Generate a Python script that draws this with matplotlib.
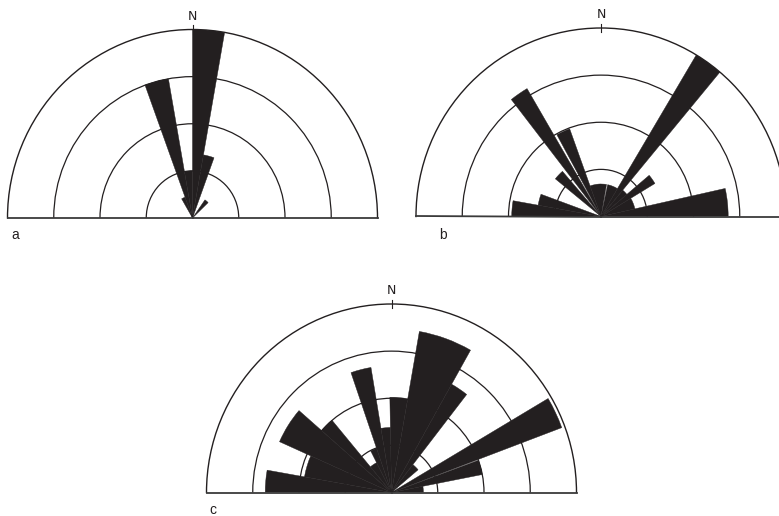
import numpy as np
import matplotlib
matplotlib.use("Agg")
import matplotlib.pyplot as plt

# Half rose diagrams: azimuth classes (degrees, negative = west of north)
# and class lengths in ring units (rings at 1, 2, 3; outer circle at 4).
a_from = [-30, -20, -10, 0, 10, 35]
a_to = [-20, -10, 0, 10, 20, 46]
a_len = [0.47, 3.0, 1.0, 4.0, 1.36, 0.47]

b_from = [-90, -80, -51, -38, -28.8, -20, 12, 31, 40, 50, 59, 77.5]
b_to = [-80, -70, -41, -30.5, -20, 10, 31, 40, 50, 59, 77.5, 90]
b_len = [1.93, 1.38, 1.27, 3.15, 1.98, 0.69, 0.69, 4.0, 0.73, 1.36, 0.75, 2.75]

c_from = [-90, -80, -66, -49, -40, -27, -19, -9.5, -1, 10, 29.5, 38, 59.5, 70, 79]
c_to = [-80, -66, -49, -40, -27, -19, -9.5, -1, 10, 29.5, 38, 50, 69.5, 79, 90]
c_len = [2.73, 1.91, 2.65, 2.0, 0.71, 0.99, 2.69, 1.38, 2.02, 3.47, 2.64, 0.75, 3.93, 2.0, 0.69]

ring_values = [1, 2, 3]
outer = 4
panel_names = ["a", "b", "c"]

W, H = 779, 516
fig = plt.figure(figsize=(W / 100, H / 100), dpi=100)

# pixel centre of each half-circle and outer-circle radii (across, up)
centres = [(192.5, 218.0), (601.0, 216.5), (391.5, 492.5)]
RX, RY = 185.0, 188.5
label_pos = [(15, 235), (443, 235), (213, 510)]
ink = "#231f20"

panels = [(a_from, a_to, a_len), (b_from, b_to, b_len), (c_from, c_to, c_len)]

for (cx, cy), (t0, t1, ln), name, (lx, ly) in zip(centres, panels, panel_names, label_pos):
    # the half-disk sits vertically centred in its polar box
    top = cy - 1.5 * RY
    ax = fig.add_axes([(cx - RX) / W, (H - (top + 2 * RY)) / H, 2 * RX / W, 2 * RY / H],
                      projection="polar")
    ax.set_aspect("auto")
    ax.set_theta_zero_location("N")
    ax.set_theta_direction(-1)
    ax.set_thetamin(-90)
    ax.set_thetamax(90)
    ax.set_ylim(0, outer)
    ax.set_facecolor("none")

    t0 = np.asarray(t0, float)
    t1 = np.asarray(t1, float)
    ax.bar(np.deg2rad(t0), ln, width=np.deg2rad(t1 - t0), align="edge",
           bottom=0, color=ink, edgecolor=ink, linewidth=0.3, zorder=2)

    ax.set_axisbelow(True)
    ax.set_yticks(ring_values)
    ax.set_yticklabels([])
    ax.yaxis.grid(True, color=ink, linewidth=0.9)
    ax.xaxis.grid(False)
    ax.tick_params(axis="y", length=0)
    ax.set_xticks([0])
    ax.set_xticklabels(["N"])
    ax.tick_params(axis="x", length=0, labelsize=9, pad=2.5, labelcolor=ink)
    # north mark crossing the outer circle
    ax.plot([0, 0], [outer - 0.09, outer + 0.09], color=ink, linewidth=0.8,
            clip_on=False, zorder=3)
    ax.spines["polar"].set_linewidth(1.0)
    ax.spines["polar"].set_color(ink)
    for s in ("start", "end"):
        ax.spines[s].set_linewidth(1.3)
        ax.spines[s].set_color("#3a3a3a")
    ax.spines["inner"].set_visible(False)

    fig.text(lx / W, 1 - ly / H, name, ha="center", va="center",
             fontsize=10, color=ink, family="Liberation Sans")

fig.savefig("out.png", dpi=100)
